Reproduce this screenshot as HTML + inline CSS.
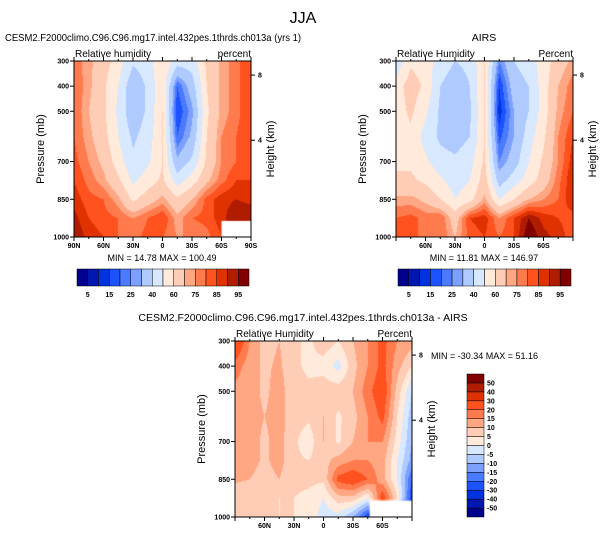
<!DOCTYPE html>
<html><head><meta charset="utf-8">
<style>
body{margin:0;background:#fff;width:606px;height:538px;overflow:hidden;position:relative;font-family:"Liberation Sans",sans-serif}
canvas{position:absolute}
svg{position:absolute;left:0;top:0}
text{font-family:"Liberation Sans",sans-serif;fill:#000}
</style></head><body>
<canvas id="c1"></canvas>
<canvas id="c2"></canvas>
<canvas id="c3"></canvas>
<svg id="ov" width="606" height="538"></svg>
<script>
const lats=[90,75,60,45,30,15,0,-15,-30,-45,-60,-75,-90];
const pressures=[300,400,500,600,700,775,850,925,1000];
const modelRH=[
[78,72,65,55,42,45,60,45,45,62,72,78,85],
[80,72,62,50,32,42,58,20,35,60,72,78,85],
[80,70,62,48,32,42,60,15,28,58,72,78,85],
[80,72,64,50,38,45,60,20,32,60,75,80,85],
[82,75,68,55,42,48,60,32,42,62,75,80,85],
[85,78,72,62,48,55,62,45,55,68,78,85,85],
[88,82,80,72,58,65,72,62,70,82,88,90,88],
[92,85,82,80,75,80,85,72,80,82,88,95,95],
[95,88,85,80,78,82,80,75,75,78,85,90,90]];
const airsRH=[
[42,58,55,45,40,42,60,25,40,45,55,65,72],
[55,65,58,40,35,40,60,15,35,40,55,70,78],
[55,62,52,38,32,38,60,12,30,40,55,72,80],
[55,58,46,38,35,40,60,18,30,45,58,75,85],
[58,58,52,44,42,46,62,25,35,50,62,75,88],
[62,62,58,52,45,50,65,35,45,55,65,78,90],
[72,72,68,60,50,56,72,50,60,70,75,80,90],
[80,82,78,80,65,85,88,75,85,95,88,85,82],
[80,82,78,80,70,82,85,80,85,100,92,88,82]];
const diffRH=[
[28,15,8,10,6,4,8,5,10,15,22,15,12],
[18,12,9,11,6,4,3,-2,8,15,22,12,5],
[13,12,9,12,7,6,8,8,10,18,25,8,-5],
[13,12,10,12,7,6,10,4,8,15,22,5,-8],
[13,12,9,12,6,2,10,4,10,15,15,3,-10],
[12,12,9,12,6,5,8,12,15,15,12,0,-12],
[11,10,8,10,6,6,6,22,25,20,12,0,-20],
[6,6,6,5,5,4,0,8,8,0,25,5,-25],
[10,6,6,5,5,4,-3,-2,-10,-25,-30,-30,-30]];
const rhLevels=[5,10,15,20,25,30,40,50,60,70,75,80,85,90,95];
const rhLabels=["5","15","25","40","60","75","85","95"];
const diffLevels=[-50,-40,-30,-20,-15,-10,-5,0,5,10,15,20,30,40,50];
const pTicks=[300,400,500,700,850,1000];
const latTicks=[90,60,30,0,-30,-60,-90];
const hTicks=[8,4];
const hTickP=[356,615];
const palette=["#00008c","#0018b0","#0032e0","#1c52ff","#4a7aff","#7ca0ff","#aecaff","#d8e8ff","#ffeadc","#ffcdb6","#ffa683","#ff7b4e","#ff521f","#e03200","#b01c00","#800000"];

const NS="http://www.w3.org/2000/svg";
const ov=document.getElementById('ov');
function el(tag,attrs,parent,txt){const e=document.createElementNS(NS,tag);for(const k in attrs)e.setAttribute(k,attrs[k]);if(txt!==undefined)e.textContent=txt;(parent||ov).appendChild(e);return e;}
function hex(c){return [parseInt(c.slice(1,3),16),parseInt(c.slice(3,5),16),parseInt(c.slice(5,7),16)];}
const pal=palette.map(hex);
function lvl(v,levels){let i=0;while(i<levels.length&&v>=levels[i])i++;return i;}

function panel(id,cfg){
  const {x0,y0,w,h,data,levels,mask}=cfg;
  const cv=document.getElementById(id);cv.width=w;cv.height=h;cv.style.left=x0+'px';cv.style.top=y0+'px';
  const ctx=cv.getContext('2d');const img=ctx.createImageData(w,h);
  const xS=lat=>(90-lat)/180*w, yS=p=>(p-300)/700*h;
  for(let py=0;py<h;py++){
    const p=300+(py+0.5)/h*700;
    let r=0;while(r<pressures.length-2&&p>pressures[r+1])r++;
    const ty=(p-pressures[r])/(pressures[r+1]-pressures[r]);
    for(let px=0;px<w;px++){
      const lat=90-(px+0.5)/w*180;
      let c=0;while(c<lats.length-2&&lat<lats[c+1])c++;
      const tx=(lats[c]-lat)/(lats[c]-lats[c+1]);
      const v=(data[r][c]*(1-tx)+data[r][c+1]*tx)*(1-ty)+(data[r+1][c]*(1-tx)+data[r+1][c+1]*tx)*ty;
      const col=pal[lvl(v,levels)];const k=(py*w+px)*4;
      img.data[k]=col[0];img.data[k+1]=col[1];img.data[k+2]=col[2];img.data[k+3]=255;
    }
  }
  ctx.putImageData(img,0,0);
  if(mask){ctx.fillStyle='#fff';ctx.fillRect(xS(mask[0]),yS(mask[1]),w-xS(mask[0]),h-yS(mask[1]));}
  const g=el('g',{});
  
  el('rect',{x:x0,y:y0,width:w,height:h,fill:'none',stroke:'#000','stroke-width':1},g);
  pTicks.forEach(p=>{const y=y0+yS(p);el('line',{x1:x0-4,x2:x0,y1:y,y2:y,stroke:'#000'},g);
    const t=el('text',{x:x0-5,y:y+2.5,'font-size':7,'text-anchor':'end','font-weight':'bold'},g,String(p));});
  for(let lat=90;lat>=-90;lat-=15){const x=x0+xS(lat);const L=lat%30===0?4:2;
    el('line',{x1:x,x2:x,y1:y0+h,y2:y0+h+L,stroke:'#000'},g);el('line',{x1:x,x2:x,y1:y0,y2:y0-L,stroke:'#000'},g);}
  latTicks.forEach(lat=>{if(!cfg.edgeLabels&&Math.abs(lat)===90)return;const x=x0+xS(lat);
    const s=lat===0?'0':(Math.abs(lat)+(lat>0?'N':'S'));
    const t=el('text',{x:x,y:y0+h+11,'font-size':7,'text-anchor':'middle','font-weight':'bold'},g,s);});
  hTicks.forEach((hk,i)=>{const y=y0+yS(hTickP[i]);el('line',{x1:x0+w,x2:x0+w+4,y1:y,y2:y,stroke:'#000'},g);
    const t=el('text',{x:x0+w+7,y:y+2.5,'font-size':7,'font-weight':'bold'},g,String(hk));});
  const yl=el('text',{x:0,y:0,'font-size':11,'text-anchor':'middle',transform:`translate(${x0-30},${y0+h/2}) rotate(-90)`},g,'Pressure (mb)');
  const yr=el('text',{x:0,y:0,'font-size':11,'text-anchor':'middle',transform:`translate(${x0+w+23},${y0+h/2}) rotate(-90)`},g,'Height (km)');
  const lt=el('text',{x:x0+1,y:y0-4,'font-size':10},g,cfg.left);
  const rt=el('text',{x:x0+w,y:y0-4,'font-size':10,'text-anchor':'end'},g,cfg.right);
  const ta={x:cfg.tx,y:y0-20,'font-size':10.5,'text-anchor':cfg.ta||'middle'};
  if(cfg.tl){ta.textLength=cfg.tl;ta.lengthAdjust='spacingAndGlyphs';}
  const tt=el('text',ta,g,cfg.title);
  const mm=el('text',{x:cfg.mx,y:cfg.my,'font-size':9,'text-anchor':cfg.ma||'middle'},g,cfg.minmax);
}
panel('c1',{name:'model',x0:74,y0:61,w:177,h:176,data:modelRH,levels:rhLevels,mask:[-60,936],edgeLabels:true,
  left:'Relative humidity',right:'percent',title:'CESM2.F2000climo.C96.C96.mg17.intel.432pes.1thrds.ch013a (yrs 1)',tx:5,ta:'start',tl:296,minmax:'MIN =  14.78  MAX = 100.49',mx:162,my:261});
panel('c2',{name:'airs',x0:396,y0:61,w:177,h:176,data:airsRH,levels:rhLevels,edgeLabels:false,
  left:'Relative Humidity',right:'Percent',title:'AIRS',tx:484,minmax:'MIN =  11.81  MAX = 146.97',mx:484,my:261});
panel('c3',{name:'diff',x0:235,y0:341,w:177,h:176,data:diffRH,levels:diffLevels,mask:[-47,935],edgeLabels:false,
  left:'Relative Humidity',right:'Percent',title:'CESM2.F2000climo.C96.C96.mg17.intel.432pes.1thrds.ch013a - AIRS',tx:303,minmax:'MIN = -30.34  MAX =  51.16',mx:431,my:359,ma:'start'});

function hbar(x,y,w,h,name){const g=el('g',{});
  const bw=w/palette.length;
  palette.forEach((c,i)=>{const r=el('rect',{x:x+i*bw,y:y,width:bw,height:h,fill:c,stroke:'#000','stroke-width':0.5},g);});
  rhLabels.forEach((s,i)=>{const t=el('text',{x:x+(1+2*i)*bw,y:y+h+11,'font-size':7,'text-anchor':'middle','font-weight':'bold'},g,s);});}
hbar(77,269,172,17,'model-colorbar');
hbar(398,269,173,17,'airs-colorbar');
(function(){const x=467,y=374,w=17,h=143;const g=el('g',{});
  const bh=h/palette.length;
  palette.forEach((c,i)=>{const r=el('rect',{x:x,y:y+h-(i+1)*bh,width:w,height:bh,fill:c,stroke:'#000','stroke-width':0.5},g);});
  diffLevels.forEach((v,i)=>{const t=el('text',{x:x+w+3,y:y+h-(i+1)*bh+2.5,'font-size':7,'font-weight':'bold'},g,String(v));});})();
const mt=el('text',{x:303,y:23,'font-size':16,'text-anchor':'middle'},ov,'JJA');


</script>
</body></html>
